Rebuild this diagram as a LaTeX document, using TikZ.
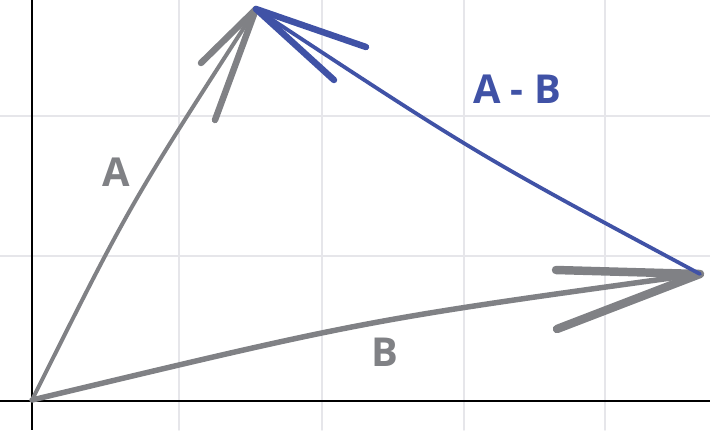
\documentclass[tikz,border=0pt]{standalone}
\usepackage{fontspec}
\setmainfont{Open Sans}
\usepackage{tikz}
\definecolor{vgray}{RGB}{128,129,133}
\definecolor{vblue}{RGB}{64,82,166}
\definecolor{gridgray}{RGB}{230,230,234}

\begin{document}
\begin{tikzpicture}[x=1bp, y=-1bp, line cap=round, line join=round,
		vec/.style={draw=vgray, line width=4pt},
		barb/.style={draw=vgray, line width=6.5pt},
		diff/.style={draw=vblue, line width=3.8pt},
		diffbarb/.style={draw=vblue, line width=6.5pt},
		lbl/.style={font=\fontsize{40}{48}\selectfont\bfseries, inner sep=0pt}]
				\useasboundingbox (0,0) rectangle (710,430);
				\foreach \gx in {179,322,464,605} \draw[gridgray, line width=1.5pt] (\gx,0) -- (\gx,430);
				\foreach \gy in {116,256} \draw[gridgray, line width=1.5pt] (0,\gy) -- (710,\gy);
				\draw[black, line width=1.5pt, line cap=butt] (32,0) -- (32,430);
				\draw[black, line width=1.5pt, line cap=butt] (0,401) -- (710,401);
				
				\coordinate (O) at (32,400);
				\coordinate (A) at (256,9);
				\coordinate (B) at (700,274);
				\coordinate (Al) at (201,63);
				\coordinate (Ar) at (215,120);
				\coordinate (Bt) at (556,270);
				\coordinate (Bb) at (557,329);
				\coordinate (Dt) at (366,47);
				\coordinate (Db) at (334,80);
				
				\draw[vec] (O) .. controls (130,204) .. (A);
				\draw[barb] (Al) -- (A) -- (Ar);
				\draw[vec, line width=5.5pt] (O) .. controls (366,320) .. (B);
				\draw[barb, line width=8.5pt] (Bt) -- (B) -- (Bb);
				\draw[diff] (B) .. controls (478,155) .. (A);
				\draw[diffbarb] (Dt) -- (A) -- (Db);
				
				\node[lbl, text=vgray] (labA) at (116,172) {A};
				\node[lbl, text=vgray] (labB) at (385,352) {B};
				\node[lbl, text=vblue] (labD) at (517,89) {A - B};
			\end{tikzpicture}
\end{document}
